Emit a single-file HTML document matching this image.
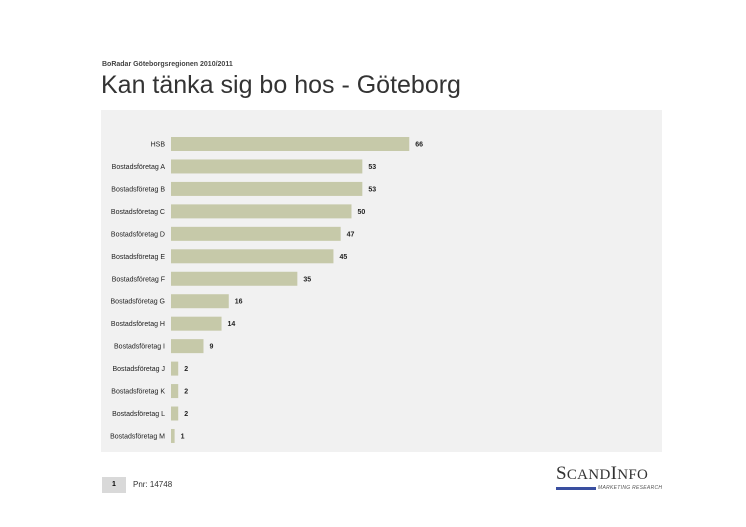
<!DOCTYPE html>
<html><head><meta charset="utf-8"><style>
body{margin:0;background:#fff;width:746px;height:527px;overflow:hidden;font-family:"Liberation Sans",sans-serif;position:relative}
.abs{position:absolute}
</style></head><body>
<div class="abs" style="left:102px;top:61px;font-size:7px;font-weight:bold;color:#444">BoRadar Göteborgsregionen 2010/2011</div>
<div class="abs" style="left:101px;top:71px;font-size:25px;color:#333">Kan tänka sig bo hos - Göteborg</div>
<div class="abs" style="left:101px;top:110px;width:561px;height:342px;background:#f1f1f1"></div>
<svg class="abs" style="left:0;top:0" width="746" height="527" id="chart"></svg>
<div class="abs" style="left:102px;top:477px;width:24px;height:16px;background:#d9d9d9;font-size:7px;font-weight:bold;text-align:center;line-height:16px">1</div>
<div class="abs" style="left:133px;top:477px;font-size:8px;line-height:16px;color:#333">Pnr: 14748</div>
<div class="abs" style="left:556px;top:464px;width:108px">
<div style="font-family:'Liberation Serif',serif;font-size:19px;color:#333;letter-spacing:0.3px;line-height:20px"><span>S</span><span style="font-size:15px">CAND</span><span>I</span><span style="font-size:15px">NFO</span></div>
<div style="display:flex;align-items:center;gap:2px"><div style="width:40px;height:3px;background:#3a4fa0"></div><span style="font-size:5px;font-style:italic;color:#555;letter-spacing:0.3px">MARKETING RESEARCH</span></div>
</div>
<script>
const categories=["HSB","Bostadsföretag A","Bostadsföretag B","Bostadsföretag C","Bostadsföretag D","Bostadsföretag E","Bostadsföretag F","Bostadsföretag G","Bostadsföretag H","Bostadsföretag I","Bostadsföretag J","Bostadsföretag K","Bostadsföretag L","Bostadsföretag M"];
const values=[66,53,53,50,47,45,35,16,14,9,2,2,2,1];
const svg=document.getElementById('chart');
const NS='http://www.w3.org/2000/svg';
const x0=171,pxPerUnit=3.61;
function xScale(v){return v*pxPerUnit;}
function yScale(i){return 144+i*22.46;}
categories.forEach((c,i)=>{
  const y=yScale(i),w=xScale(values[i]);
  const r=document.createElementNS(NS,'rect');
  r.setAttribute('x',x0);r.setAttribute('y',y-7);r.setAttribute('width',w);r.setAttribute('height',14);r.setAttribute('fill','#c6c9a9');
  
  
  svg.appendChild(r);
  const l=document.createElementNS(NS,'text');
  l.setAttribute('x',165);l.setAttribute('y',y+2.5);l.setAttribute('text-anchor','end');l.setAttribute('font-size','7');l.setAttribute('fill','#222');l.setAttribute('font-family','Liberation Sans, sans-serif');
  l.textContent=c;
  
  
  svg.appendChild(l);
  const v=document.createElementNS(NS,'text');
  v.setAttribute('x',x0+w+6);v.setAttribute('y',y+2.5);v.setAttribute('font-size','7');v.setAttribute('font-weight','bold');v.setAttribute('fill','#222');v.setAttribute('font-family','Liberation Sans, sans-serif');
  v.textContent=values[i];
  
  
  svg.appendChild(v);
});
</script>
</body></html>
